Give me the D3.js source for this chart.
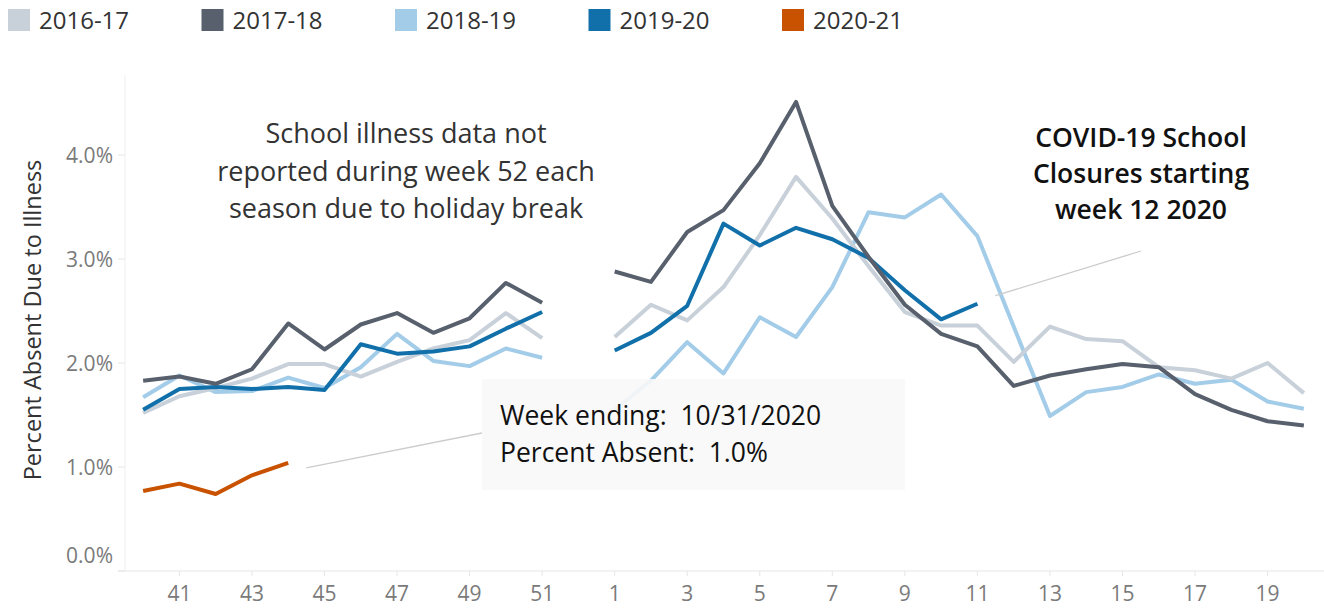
<!DOCTYPE html>
<html>
<head>
<meta charset="utf-8">
<script src="https://cdn.jsdelivr.net/npm/d3@7"></script>
<style>
  body { margin: 0; background: #fff; }
  text { font-family: "Open Sans", "Noto Sans", sans-serif; white-space: pre; }
</style>
</head>
<body>
<div id="chart"></div>
<script>
// Weeks of the flu season (week 52 has no data)
const weeks = ["40","41","42","43","44","45","46","47","48","49","50","51","52",
  "1","2","3","4","5","6","7","8","9","10","11","12","13","14","15","16","17","18","19","20"];
const tickWeeks = ["41","43","45","47","49","51","1","3","5","7","9","11","13","15","17","19"];
const yTicks = [0, 1, 2, 3, 4];

const seasons = ["2016-17", "2017-18", "2018-19", "2019-20", "2020-21"];
const colors = ["#c8d0d9", "#57606c", "#a3cce9", "#1170aa", "#c85200"];

// Percent absent due to illness, per week
const s2016 = [1.52,1.68,1.76,1.85,1.99,1.99,1.87,2.01,2.14,2.22,2.48,2.24,null,
  2.25,2.56,2.41,2.73,3.23,3.79,3.39,2.93,2.49,2.36,2.36,2.01,2.35,2.23,2.21,1.96,1.93,1.85,2.00,1.71];
const s2017 = [1.83,1.87,1.80,1.94,2.38,2.13,2.37,2.48,2.29,2.43,2.77,2.58,null,
  2.88,2.78,3.26,3.47,3.92,4.51,3.51,3.02,2.56,2.28,2.16,1.78,1.88,1.94,1.99,1.96,1.70,1.55,1.44,1.40];
const s2018 = [1.67,1.88,1.72,1.73,1.86,1.76,1.96,2.28,2.02,1.97,2.14,2.05,null,
  1.55,1.83,2.20,1.90,2.44,2.25,2.73,3.45,3.40,3.62,3.22,2.35,1.49,1.72,1.77,1.89,1.80,1.84,1.63,1.56];
const s2019 = [1.55,1.75,1.77,1.75,1.77,1.74,2.18,2.09,2.11,2.16,2.33,2.49,null,
  2.12,2.29,2.55,3.34,3.13,3.30,3.19,3.01,2.70,2.42,2.57,null,null,null,null,null,null,null,null,null];
const s2020 = [0.77,0.84,0.74,0.92,1.04];

const seriesValues = [s2016, s2017, s2018, s2019, s2020];
const drawOrder = [2, 0, 3, 1, 4];

const noteLeft = ["School illness data not", "reported during week 52 each", "season due to holiday break"];
const noteRight = ["COVID-19 School", "Closures starting", "week 12 2020"];
const tipLines = ["Week ending:  10/31/2020", "Percent Absent:  1.0%"];

const width = 1324, height = 611;

const svg = d3.select("#chart")
  .append("svg")
  .attr("width", width)
  .attr("height", height);

// Scales
const x = d3.scalePoint()
  .domain(weeks)
  .range([125, 1322])
  .padding(0.5);

const y = d3.scaleLinear()
  .domain([0, 4.75])
  .range([571, 77]);

// Axis lines
svg.append("line")
  .attr("x1", 125).attr("x2", 125)
  .attr("y1", 75).attr("y2", 571)
  .attr("stroke", "#efefef");

svg.append("line")
  .attr("x1", 118).attr("x2", width)
  .attr("y1", 571).attr("y2", 571)
  .attr("stroke", "#e6e6e6");

// Y ticks + labels
svg.selectAll(".ytick")
  .data(yTicks)
  .enter()
  .append("line")
  .attr("x1", 118).attr("x2", 125)
  .attr("y1", d => y(d)).attr("y2", d => y(d))
  .attr("stroke", "#e6e6e6");

svg.selectAll(".ylabel")
  .data(yTicks)
  .enter()
  .append("text")
  .attr("x", 113)
  .attr("y", d => d === 0 ? y(d) - 14 : y(d) + 2)
  .attr("text-anchor", "end")
  .attr("dominant-baseline", "middle")
  .attr("font-size", 21)
  .attr("fill", "#7a7a7a")
  .text(d => d3.format(".1f")(d) + "%");

// X ticks + labels
svg.selectAll(".xtick")
  .data(tickWeeks)
  .enter()
  .append("line")
  .attr("x1", d => x(d)).attr("x2", d => x(d))
  .attr("y1", 571).attr("y2", 576)
  .attr("stroke", "#e6e6e6");

svg.selectAll(".xlabel")
  .data(tickWeeks)
  .enter()
  .append("text")
  .attr("x", d => x(d))
  .attr("y", 601)
  .attr("text-anchor", "middle")
  .attr("font-size", 21)
  .attr("fill", "#7a7a7a")
  .text(d => d);

// Y axis title
svg.append("text")
  .attr("transform", "translate(41,320) rotate(-90)")
  .attr("text-anchor", "middle")
  .attr("font-size", 23.5)
  .attr("fill", "#333")
  .text("Percent Absent Due to Illness");

// Lines
const line = d3.line()
  .defined(d => d.v != null)
  .x(d => x(d.w))
  .y(d => y(d.v));

drawOrder.forEach(i => {
  const pts = seriesValues[i].map((v, j) => ({ w: weeks[j], v: v }));
  svg.append("path")
    .datum(pts)
    .attr("fill", "none")
    .attr("stroke", colors[i])
    .attr("stroke-width", 4)
    .attr("stroke-linejoin", "round")
    .attr("d", line);
});

// Annotation text (left)
svg.selectAll(".noteL")
  .data(noteLeft)
  .enter()
  .append("text")
  .attr("x", 406)
  .attr("y", (d, i) => 143 + i * 37.5)
  .attr("text-anchor", "middle")
  .attr("font-size", 27)
  .attr("fill", "#333")
  .text(d => d);

// Annotation text (right)
svg.selectAll(".noteR")
  .data(noteRight)
  .enter()
  .append("text")
  .attr("x", 1141)
  .attr("y", (d, i) => 147 + i * 36)
  .attr("text-anchor", "middle")
  .attr("font-size", 26.5)
  .attr("font-weight", 600)
  .attr("fill", "#111")
  .text(d => d);

// COVID annotation pointer
svg.append("line")
  .attr("x1", x("11") + 18).attr("y1", y(2.57) - 8)
  .attr("x2", 1141).attr("y2", 251)
  .attr("stroke", "#cccccc")
  .attr("stroke-width", 1.3);

// Tooltip-style annotation
svg.append("line")
  .attr("x1", x("44") + 18).attr("y1", y(1.04) + 5)
  .attr("x2", 482).attr("y2", 433)
  .attr("stroke", "#cccccc")
  .attr("stroke-width", 1.3);

svg.append("rect")
  .attr("x", 482).attr("y", 379)
  .attr("width", 423).attr("height", 111)
  .attr("fill", "#f8f8f8")
  .attr("fill-opacity", 0.9);

svg.selectAll(".tip")
  .data(tipLines)
  .enter()
  .append("text")
  .attr("x", 500)
  .attr("y", (d, i) => 425 + i * 37)
  .attr("font-size", 26.5)
  .attr("fill", "#111")
  .text(d => d);

// Legend
const legend = svg.selectAll(".legend")
  .data(seasons)
  .enter()
  .append("g")
  .attr("transform", (d, i) => `translate(${8 + i * 193.5},9)`);

legend.append("rect")
  .attr("width", 22).attr("height", 22)
  .attr("fill", (d, i) => colors[i]);

legend.append("text")
  .attr("x", 31)
  .attr("y", 20)
  .attr("font-size", 24)
  .attr("fill", "#333")
  .text(d => d);
</script>
</body>
</html>
